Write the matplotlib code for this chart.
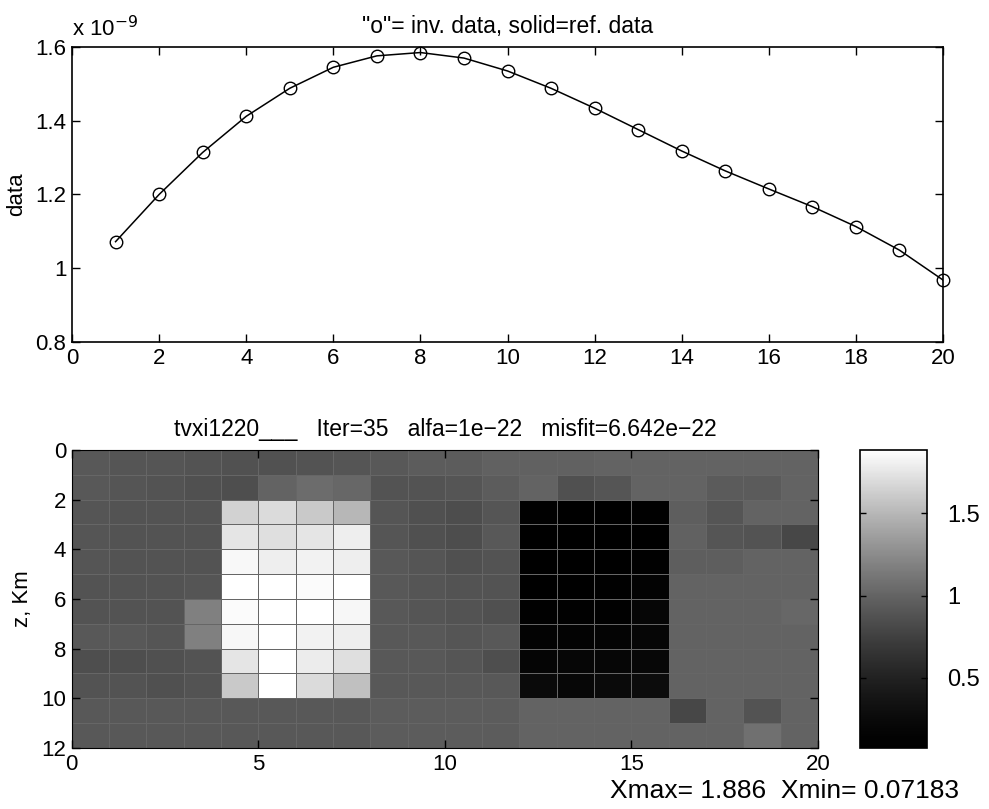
import numpy as np
import matplotlib
matplotlib.use("Agg")
import matplotlib.pyplot as plt
from matplotlib.colors import LinearSegmentedColormap
from matplotlib.ticker import FuncFormatter

plt.rcParams['font.family'] = ['Liberation Sans', 'DejaVu Sans']
plt.rcParams['font.size'] = 16

# top panel: data in units of 1e-9
station = list(range(1, 21))
inv_data = [1.072, 1.200, 1.314, 1.412, 1.488, 1.545, 1.576, 1.585, 1.570, 1.535,
            1.488, 1.434, 1.376, 1.318, 1.264, 1.215, 1.167, 1.113, 1.049, 0.968]
ref_data = [1.072, 1.200, 1.314, 1.412, 1.488, 1.545, 1.576, 1.585, 1.570, 1.535,
            1.488, 1.434, 1.376, 1.318, 1.264, 1.215, 1.167, 1.113, 1.049, 0.968]

# bottom panel: 12 depth rows x 20 columns of model values
model = np.array([
    [0.92, 0.90, 0.90, 0.88, 0.87, 0.87, 0.88, 0.90, 0.92, 0.95, 0.95, 0.98, 0.98, 0.98, 1.00, 1.00, 1.00, 1.00, 1.00, 1.00],
    [0.92, 0.90, 0.88, 0.86, 0.85, 1.00, 1.05, 1.02, 0.88, 0.88, 0.90, 0.95, 1.00, 0.86, 0.90, 1.00, 1.00, 0.94, 0.94, 1.00],
    [0.90, 0.88, 0.88, 0.88, 1.65, 1.70, 1.60, 1.50, 0.90, 0.86, 0.84, 0.90, 0.10, 0.09, 0.09, 0.10, 0.96, 0.90, 1.00, 1.00],
    [0.90, 0.88, 0.88, 0.88, 1.75, 1.72, 1.75, 1.80, 0.90, 0.86, 0.84, 0.92, 0.08, 0.08, 0.08, 0.09, 0.98, 0.90, 0.88, 0.80],
    [0.90, 0.88, 0.88, 0.88, 1.85, 1.80, 1.82, 1.80, 0.92, 0.90, 0.86, 0.88, 0.08, 0.08, 0.08, 0.12, 0.96, 0.96, 1.00, 1.00],
    [0.88, 0.88, 0.88, 0.90, 1.88, 1.88, 1.86, 1.88, 0.92, 0.90, 0.88, 0.88, 0.09, 0.09, 0.10, 0.15, 1.00, 1.00, 1.00, 1.00],
    [0.88, 0.88, 0.88, 1.18, 1.86, 1.88, 1.88, 1.84, 0.92, 0.90, 0.88, 0.86, 0.12, 0.10, 0.12, 0.20, 1.00, 1.00, 1.00, 1.02],
    [0.92, 0.92, 0.90, 1.18, 1.84, 1.88, 1.82, 1.80, 0.92, 0.92, 0.90, 0.92, 0.15, 0.15, 0.17, 0.20, 1.00, 1.00, 1.00, 1.00],
    [0.85, 0.85, 0.86, 0.88, 1.75, 1.88, 1.78, 1.72, 0.92, 0.92, 0.90, 0.85, 0.18, 0.20, 0.20, 0.22, 1.00, 1.00, 1.00, 1.00],
    [0.88, 0.88, 0.86, 0.88, 1.60, 1.88, 1.70, 1.55, 0.92, 0.92, 0.92, 0.92, 0.25, 0.22, 0.25, 0.28, 1.00, 1.00, 1.00, 1.00],
    [0.92, 0.92, 0.92, 0.92, 0.92, 0.92, 0.92, 0.92, 0.95, 0.95, 0.95, 0.95, 1.00, 1.00, 1.00, 1.00, 0.80, 1.00, 0.88, 1.00],
    [0.92, 0.92, 0.92, 0.92, 0.92, 0.92, 0.92, 0.92, 0.95, 0.95, 0.95, 0.95, 1.00, 1.00, 1.00, 1.00, 1.00, 1.00, 1.08, 1.00],
])
x_edges = np.arange(0, 21)
z_edges = np.arange(0, 13)
xmin, xmax = 0.07183, 1.886
cbar_ticks = [0.5, 1, 1.5]


def g_fmt(v, pos):
    return "%g" % round(v, 6)


fig = plt.figure(figsize=(9.89, 8.09), dpi=100)

# ---- top panel
ax1 = fig.add_axes([0.0728, 0.5773, 0.8807, 0.3646])
ax1.plot(station, ref_data, color='black', lw=1.1)
ax1.plot(station, inv_data, 'o', mfc='none', mec='black', ms=9, mew=1.0, clip_on=False)
ax1.set_xlim(0, 20)
ax1.set_ylim(0.8, 1.6)
ax1.set_xticks(range(0, 21, 2))
ax1.set_yticks([0.8, 1.0, 1.2, 1.4, 1.6])
ax1.yaxis.set_major_formatter(FuncFormatter(g_fmt))
ax1.tick_params(direction='in', top=True, right=True, length=6, width=1, labelsize=16, pad=4)
for s in ax1.spines.values():
    s.set_linewidth(1.2)
ax1.set_ylabel('data', fontsize=16, labelpad=6)
ax1.set_title('"o"= inv. data, solid=ref. data', fontsize=16.5, pad=10)
ax1.text(0.0, 1.02, r'x 10$^{-9}$', transform=ax1.transAxes, fontsize=16,
         ha='left', va='bottom')

# ---- bottom panel
cmap = LinearSegmentedColormap.from_list('scan_gray', ['black', 'white'], gamma=1.4)
ax2 = fig.add_axes([0.0725, 0.0754, 0.7546, 0.3684])
mesh = ax2.pcolormesh(x_edges, z_edges, model, cmap=cmap, vmin=xmin, vmax=xmax,
                      edgecolor='0.4', linewidth=0.6)
ax2.set_xlim(0, 20)
ax2.set_ylim(12, 0)
ax2.set_xticks([0, 5, 10, 15, 20])
ax2.set_yticks(range(0, 13, 2))
ax2.tick_params(direction='in', top=True, right=True, length=6, width=1, labelsize=16, pad=4)
ax2.set_ylabel('z, Km', fontsize=16, labelpad=6)
ax2.set_title('tvxi1220___   Iter=35   alfa=1e\u221222   misfit=6.642e\u221222', fontsize=16.5, pad=10)

cax = fig.add_axes([0.8696, 0.0754, 0.0674, 0.3684])
cb = fig.colorbar(mesh, cax=cax, ticks=cbar_ticks)
cb.ax.yaxis.set_major_formatter(FuncFormatter(g_fmt))
cb.ax.tick_params(direction='in', left=True, right=True, length=4, width=1, labelsize=17, pad=15)
cb.outline.set_linewidth(1.2)

fig.text(0.617, 0.008, 'Xmax= 1.886  Xmin= 0.07183', fontsize=19, ha='left', va='bottom')

fig.savefig('out.png', dpi=100)
